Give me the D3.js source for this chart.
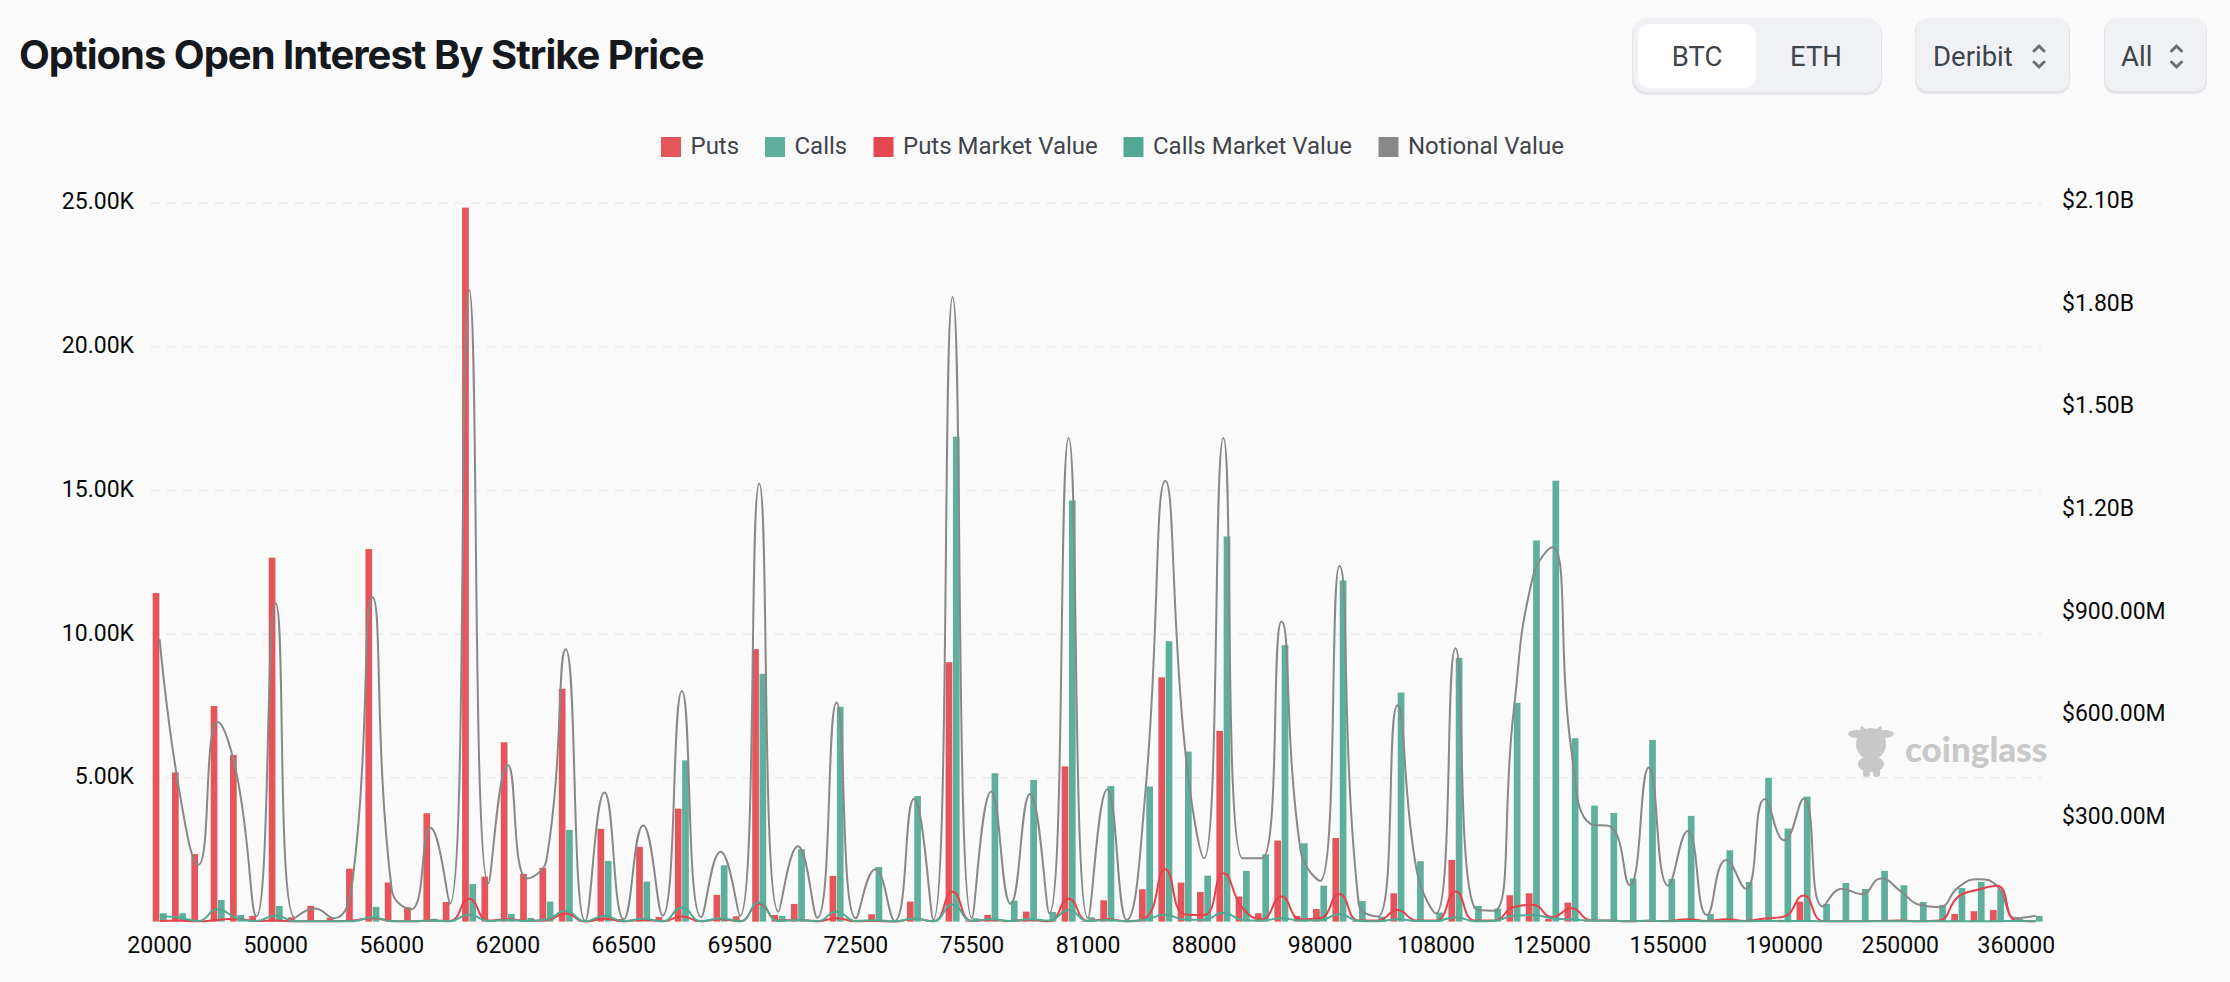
<!DOCTYPE html>
<html><head><meta charset="utf-8">
<script src="https://cdn.jsdelivr.net/npm/d3@7/dist/d3.min.js"></script>
<style>html,body{margin:0;padding:0;background:#fafafa}svg{display:block}</style>
</head><body><svg id="c" width="2230" height="982"></svg>
<script>
const strikes=[20000,25000,30000,35000,40000,45000,50000,51000,52000,53000,54000,55000,56000,57000,58000,59000,60000,61000,62000,63000,64000,65000,65500,66000,66500,67000,67500,68000,68500,69000,69500,70000,70500,71000,71500,72000,72500,73000,73500,74000,74500,75000,75500,76000,77000,78000,79000,80000,81000,82000,83000,84000,85000,86000,88000,90000,92000,94000,95000,96000,98000,100000,102000,104000,105000,106000,108000,110000,112000,114000,115000,120000,125000,130000,135000,140000,145000,150000,155000,160000,165000,170000,175000,180000,190000,200000,210000,220000,230000,240000,250000,260000,280000,300000,320000,340000,360000,400000];
const puts=[11430,5190,2350,7500,5800,200,12660,150,545,140,1840,12960,1360,500,3770,680,24840,1565,6240,1660,1870,8100,20,3225,90,2600,160,3930,30,930,185,9480,232,615,60,1590,20,255,10,696,20,9025,40,232,10,348,10,5400,20,740,20,1125,8500,1357,1032,6635,870,290,2820,197,440,2912,20,30,986,10,10,2146,10,10,916,986,100,660,20,10,10,10,10,30,10,30,10,40,60,696,10,10,10,10,10,10,10,267,360,406,20,10];
const calls=[290,290,20,750,230,20,545,10,10,10,10,510,10,10,100,10,1310,30,267,128,696,3190,10,2110,10,1390,10,5610,10,1960,10,8620,197,2517,10,7470,60,1900,10,4370,10,16870,116,5160,730,4930,336,14650,150,4720,10,4700,9755,5916,1600,13400,1763,2343,9616,2726,1253,11870,720,174,7970,2100,313,9175,545,452,7610,13260,15340,6380,4037,3780,1500,6320,1485,3677,267,2482,1380,5000,3236,4350,615,1345,1137,1763,1264,684,580,1170,1380,1125,90,197];
const putsMV=[2,3,1,5,8,2,3,1,1,1,3,10,2,1,3,2,67,3,7,2,4,24,0,8,1,5,1,15,1,7,1,52,3,5,1,10,1,2,0,8,1,87,2,5,2,5,1,67,2,7,1,12,153,21,19,141,39,7,73,7,10,81,3,3,34,3,3,88,3,3,42,49,13,39,4,3,1,2,2,7,2,7,2,9,15,76,2,1,1,2,3,1,3,73,93,105,3,1];
const callsMV=[16,12,2,36,10,2,18,1,1,1,1,13,1,1,3,1,21,2,5,2,6,32,1,17,1,8,1,41,1,10,1,56,2,5,1,29,2,4,1,8,1,50,2,7,2,7,3,34,2,5,1,6,20,6,5,26,5,3,10,3,4,22,2,1,7,2,2,13,1,2,17,19,10,6,3,3,1,3,1,2,1,1,1,2,1,2,1,1,1,1,1,1,1,1,1,1,2,1];
const notional=[825,387,166,583,426,15,930,11,38,10,130,948,93,36,274,52,1846,112,458,126,180,796,2,377,7,281,17,674,13,204,17,1280,29,220,11,640,10,153,2,358,5,1825,10,380,52,373,24,1413,10,387,5,400,1288,514,185,1413,185,185,877,205,119,1039,51,15,632,148,24,799,39,32,609,1007,1094,498,285,278,107,450,105,265,19,180,96,358,238,359,44,96,80,126,90,49,42,100,124,104,10,17];
const leftTicks=[5000,10000,15000,20000,25000];
const rightTicks=[300,600,900,1200,1500,1800,2100];
const xTickEvery=6;
const titleText="Options Open Interest By Strike Price";
const legendItems=[["Puts","#e4565c"],["Calls","#5eb09c"],["Puts Market Value","#e3474f"],["Calls Market Value","#53a893"],["Notional Value","#888888"]];

const svg=d3.select("#c");
svg.append("rect").attr("width",2230).attr("height",982).attr("fill","#fafafa");
const FONT="Roboto, Inter, sans-serif";
const y0=921.6,yTop=203;
const x=d3.scaleBand().domain(strikes).range([150,150+98*19.34]);
const yL=d3.scaleLinear().domain([0,25000]).range([y0,yTop]);
const yR=d3.scaleLinear().domain([0,2100]).range([y0,yTop]);

// ECharts-style constrained smoothing as a d3 curve
function EChartsCurve(ctx){this.c=ctx}
EChartsCurve.prototype={
 lineStart(){this.p=[]},
 point(a,b){this.p.push([+a,+b])},
 lineEnd(){
  const p=this.p,s=0.5,n=p.length,c=this.c;const cl=(v,a,b)=>Math.min(Math.max(v,Math.min(a,b)),Math.max(a,b));
  c.moveTo(p[0][0],p[0][1]);
  let cp0=p[0];
  for(let i=1;i<n;i++){
   const [px,py]=p[i-1],[x1,y1]=p[i];
   if(i===n-1){c.bezierCurveTo(cp0[0],cp0[1],x1,y1,x1,y1);break;}
   const [nx,ny]=p[i+1];
   const lp=Math.hypot(x1-px,y1-py),ln=Math.hypot(nx-x1,ny-y1);
   const r=ln/(ln+lp);
   let vx=nx-px,vy=ny-py;
   let nc=[cl(x1+vx*s*r,x1,nx),cl(y1+vy*s*r,y1,ny)];
   vx=nc[0]-x1;vy=nc[1]-y1;
   let c1=[cl(x1-vx*lp/ln,px,x1),cl(y1-vy*lp/ln,py,y1)];
   vx=x1-c1[0];vy=y1-c1[1];
   nc=[x1+vx*ln/lp,y1+vy*ln/lp];
   c.bezierCurveTo(cp0[0],cp0[1],c1[0],c1[1],x1,y1);
   cp0=nc;
  }
 }
};
const echartsCurve=ctx=>new EChartsCurve(ctx);

// Title
svg.append("text").attr("x",19).attr("y",69).attr("font-family","Inter, sans-serif").attr("font-weight",700).attr("font-size",40).attr("letter-spacing",-1).attr("fill","#15181c").text(titleText);

// Controls
const ctl=svg.append("g").attr("font-family",FONT).attr("font-size",27.5).attr("fill","#3f444b");
function box(x0,x1,y1,y2,fill,r,shadow){
 if(shadow) ctl.append("rect").attr("x",x0).attr("y",y1+1).attr("width",x1-x0).attr("height",y2-y1+1).attr("rx",r).attr("fill","#e4e5e8");
 ctl.append("rect").attr("x",x0+(shadow?1:0)).attr("y",y1).attr("width",x1-x0-(shadow?2:0)).attr("height",y2-y1-(shadow?1:0)).attr("rx",r).attr("fill",fill);
}
box(1632,1882,18,93,"#f0f1f5",15,true);
box(1638,1756,24,88,"#ffffff",12,false);
box(1915,2070,18,92,"#f0f1f5",12,true);
box(2104,2207,18,92,"#f0f1f5",12,true);
const lbl=(t,cx,a)=>ctl.append("text").attr("x",cx).attr("y",66).attr("text-anchor",a||"middle").text(t);
lbl("BTC",1697);lbl("ETH",1816);lbl("Deribit",1933,"start");lbl("All",2121,"start");
[2039,2176.5].forEach(cx=>{
 ctl.append("path").attr("d",`M${cx-5} 51l5-5l5 5M${cx-5} 62l5 5l5-5`).attr("fill","none").attr("stroke","#6a6f77").attr("stroke-width",3).attr("stroke-linecap","round");
});

// Legend
const lg=svg.append("g").attr("font-family",FONT).attr("font-size",24);
const legendX=[661,765,873.5,1123.5,1378.5];
legendItems.forEach(([t,col],i)=>{
 lg.append("rect").attr("x",legendX[i]).attr("y",137).attr("width",20).attr("height",20).attr("fill",col);
 lg.append("text").attr("x",legendX[i]+29.5).attr("y",153.5).attr("fill","#3f444b").text(t);
});

// Grid
svg.append("g").selectAll("line").data(leftTicks).join("line")
 .attr("x1",150).attr("x2",2042).attr("y1",d=>yL(d)).attr("y2",d=>yL(d))
 .attr("stroke","#f0f0f0").attr("stroke-width",2).attr("stroke-dasharray","10 6");

// Axes
function style(g){g.select(".domain").remove();g.selectAll(".tick line").remove();
 g.selectAll("text").attr("font-family",FONT).attr("font-size",23).attr("fill","#0a0a0a");}
svg.append("g").attr("transform","translate(134,-1.5)")
 .call(d3.axisLeft(yL).tickValues(leftTicks).tickSize(0).tickPadding(0).tickFormat(d=>(d/1000).toFixed(2)+"K")).call(style);
svg.append("g").attr("transform","translate(2062,-2.7)")
 .call(d3.axisRight(yR).tickValues(rightTicks).tickSize(0).tickPadding(0).tickFormat(d=>d>=1000?"$"+(d/1000).toFixed(2)+"B":"$"+d.toFixed(2)+"M")).call(style);
svg.append("g").attr("transform",`translate(0,${y0+15})`)
 .call(d3.axisBottom(x).tickValues(strikes.filter((d,i)=>i%xTickEvery===0)).tickSize(0).tickPadding(0)).call(style);

// Watermark
const wm=svg.append("g").attr("fill","#c8c8c8");
wm.append("ellipse").attr("cx",1871).attr("cy",744).attr("rx",15).attr("ry",16);
wm.append("ellipse").attr("cx",1857).attr("cy",734).attr("rx",9).attr("ry",4);
wm.append("ellipse").attr("cx",1885).attr("cy",734).attr("rx",9).attr("ry",4);
wm.append("path").attr("d","M1860 732l1-6l5 3h10l5-3l1 6z");
wm.append("ellipse").attr("cx",1871).attr("cy",764).attr("rx",13).attr("ry",8);
wm.append("rect").attr("x",1863).attr("y",765).attr("width",7).attr("height",12).attr("rx",3);
wm.append("rect").attr("x",1873).attr("y",765).attr("width",7).attr("height",12).attr("rx",3);
wm.append("text").attr("x",1905).attr("y",762).attr("font-family","Lato, sans-serif").attr("font-weight",900).attr("font-size",35).attr("fill","#c8c8c8").text("coinglass");

// Bars
const bw=6.7,off=3.65;
svg.append("g").selectAll("rect").data(strikes).join("rect")
 .attr("x",d=>x(d)+x.bandwidth()/2-off-bw/2).attr("width",bw)
 .attr("y",(d,i)=>yL(puts[i])).attr("height",(d,i)=>y0-yL(puts[i])).attr("fill","#e4565c");
svg.append("g").selectAll("rect").data(strikes).join("rect")
 .attr("x",d=>x(d)+x.bandwidth()/2+off-bw/2).attr("width",bw)
 .attr("y",(d,i)=>yL(calls[i])).attr("height",(d,i)=>y0-yL(calls[i])).attr("fill","#5eb09c");

// Lines
const line=d3.line().x((v,i)=>x(strikes[i])+x.bandwidth()/2).y(v=>yR(v)).curve(echartsCurve);
[[notional,"#888888"],[putsMV,"#e8404a"],[callsMV,"#4fab94"]].forEach(([arr,col])=>{
 svg.append("path").attr("d",line(arr)).attr("fill","none").attr("stroke",col).attr("stroke-width",2);
});
</script></body></html>
